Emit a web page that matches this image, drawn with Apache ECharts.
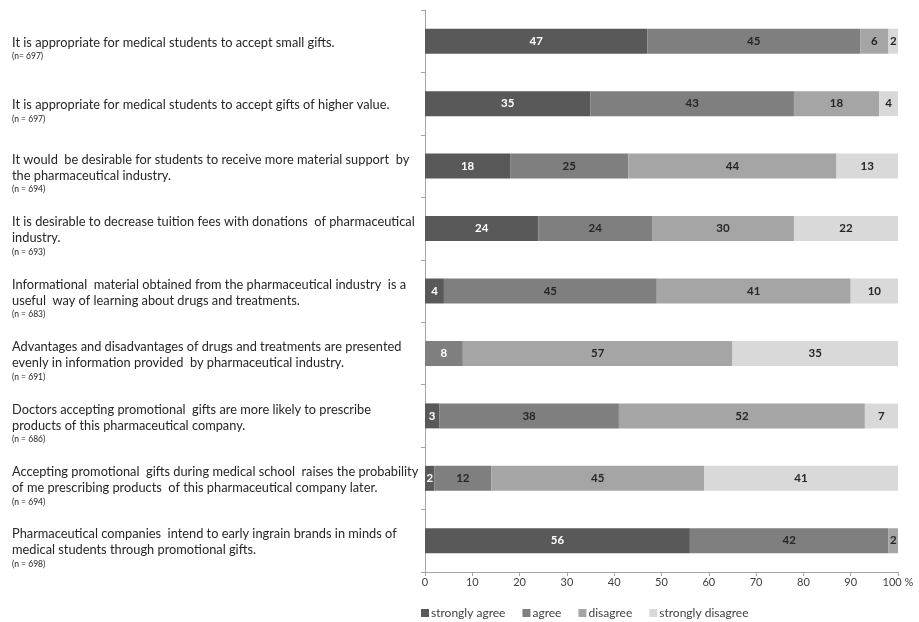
<!DOCTYPE html>
<html>
<head>
<meta charset="utf-8">
<script src="https://cdn.jsdelivr.net/npm/echarts@6/dist/echarts.min.js"></script>
<style>html,body{margin:0;padding:0;background:#fff;}#c{width:919px;height:622px;}</style>
</head>
<body>
<div id="c"></div>
<script>
const categories = [
  "It is appropriate for medical students to accept small gifts.",
  "It is appropriate for medical students to accept gifts of higher value.",
  "It would  be desirable for students to receive more material support  by\nthe pharmaceutical industry.",
  "It is desirable to decrease tuition fees with donations  of pharmaceutical\nindustry.",
  "Informational  material obtained from the pharmaceutical industry  is a\nuseful  way of learning about drugs and treatments.",
  "Advantages and disadvantages of drugs and treatments are presented\nevenly in information provided  by pharmaceutical industry.",
  "Doctors accepting promotional  gifts are more likely to prescribe\nproducts of this pharmaceutical company.",
  "Accepting promotional  gifts during medical school  raises the probability\nof me prescribing products  of this pharmaceutical company later.",
  "Pharmaceutical companies  intend to early ingrain brands in minds of\nmedical students through promotional gifts."
];
const nLabels = ["(n= 697)", "(n = 697)", "(n = 694)", "(n = 693)", "(n = 683)", "(n = 691)", "(n = 686)", "(n = 694)", "(n = 698)"];
const seriesNames = ["strongly agree", "agree", "disagree", "strongly disagree"];
const stronglyAgree = [47, 35, 18, 24, 4, 0, 3, 2, 56];
const agree = [45, 43, 25, 24, 45, 8, 38, 12, 42];
const disagree = [6, 18, 44, 30, 41, 57, 52, 45, 2];
const stronglyDisagree = [2, 4, 13, 22, 10, 35, 7, 41, 0];
const xTicks = [0, 10, 20, 30, 40, 50, 60, 70, 80, 90, 100];

const colors = ["#595959", "#7f7f7f", "#a5a5a5", "#d9d9d9"];
const labelColors = ["#ffffff", "#262626", "#262626", "#262626"];
const values = [stronglyAgree, agree, disagree, stronglyDisagree];

const chart = echarts.init(document.getElementById('c'), null, {renderer: 'canvas'});
const FONT = 'Lato';
chart.setOption({
  animation: false,
  textStyle: {fontFamily: FONT},
  grid: {left: 425, right: 21, top: 10, bottom: 50, containLabel: false},
  legend: {
    data: seriesNames,
    left: 416, top: 602,
    itemWidth: 8, itemHeight: 8, itemGap: 17,
    icon: 'rect',
    textStyle: {fontFamily: FONT, fontSize: 12, color: '#404040', padding: [0, 0, 0, -3]}
  },
  xAxis: {
    type: 'value', min: 0, max: 100, interval: 10,
    axisLine: {show: true, lineStyle: {color: '#a6a6a6'}},
    axisTick: {show: true, length: 4, lineStyle: {color: '#a6a6a6'}},
    splitLine: {show: false},
    axisLabel: {
      fontFamily: FONT, fontSize: 11, color: '#404040', margin: 5,
      formatter: v => xTicks.includes(v) ? (v === 100 ? '100 %' : String(v)) : '',
      customValues: xTicks
    }
  },
  yAxis: {
    type: 'category', inverse: true, data: categories,
    axisLine: {show: true, lineStyle: {color: '#a6a6a6'}},
    axisTick: {show: true, length: 4, lineStyle: {color: '#a6a6a6'}},
    axisLabel: {
      align: 'left', margin: 413, padding: [15, 0, 0, 0],
      formatter: (v, i) => v.split('\n').map(l => '{a|' + l + '}').join('\n') + '\n{n|' + nLabels[i] + '}',
      rich: {
        a: {fontFamily: FONT, fontSize: 12.8, color: '#262626', lineHeight: 16},
        n: {fontFamily: FONT, fontSize: 8.5, color: '#262626', lineHeight: 12}
      }
    }
  },
  series: values.map((arr, k) => ({
    name: seriesNames[k], type: 'bar', stack: 'total',
    barCategoryGap: '60%',
    itemStyle: {color: colors[k]},
    label: {
      show: true, position: 'inside',
      fontFamily: FONT, fontWeight: 'bold', fontSize: 11.5,
      color: labelColors[k],
      formatter: p => p.value > 0 ? String(p.value) : ''
    },
    data: arr.map((v, i) => (k === 1 && stronglyAgree[i] === 0)
      ? {value: v, label: {color: '#ffffff'}} : v)
  }))
});
</script>
</body>
</html>
